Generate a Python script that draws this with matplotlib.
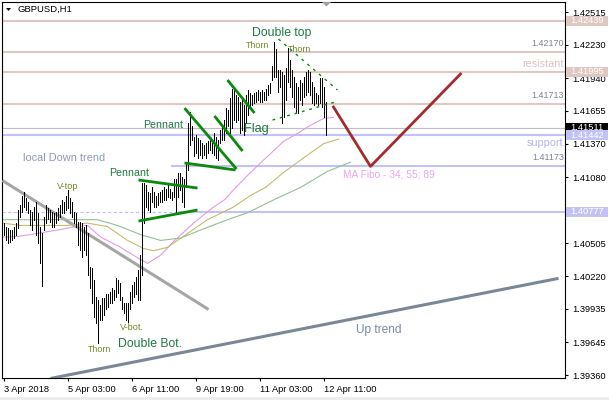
import matplotlib
matplotlib.use('Agg')
import matplotlib.pyplot as plt
from matplotlib import transforms
from matplotlib.patches import Rectangle, Polygon

plt.rcParams['font.family'] = ['Liberation Sans', 'DejaVu Sans']

# ---------------- data ----------------
bar_high = [1.4068, 1.4065, 1.4064, 1.4062, 1.4062, 1.4065, 1.4068, 1.4079, 1.4084, 1.4092,
            1.4095, 1.4090, 1.4086, 1.4079, 1.4078, 1.4082, 1.4086, 1.4077, 1.4065, 1.4059,
            1.4073, 1.4084, 1.4081, 1.4079, 1.4078, 1.4077, 1.4078, 1.4081, 1.4084, 1.4088,
            1.4086, 1.4092, 1.4097, 1.4090, 1.4086, 1.4078, 1.4077, 1.4069, 1.4069, 1.4068,
            1.4065, 1.4066, 1.4059, 1.4030, 1.4029, 1.4019, 1.4004, 1.4001, 1.3997, 1.4003,
            1.4003, 1.4006, 1.4006, 1.4008, 1.4012, 1.4010, 1.4020, 1.4019, 1.4016, 1.4004,
            1.3999, 1.3999, 1.3999, 1.4008, 1.4014, 1.4017, 1.4021, 1.4027, 1.4040, 1.4103,
            1.4103, 1.4101, 1.4095, 1.4094, 1.4099, 1.4095, 1.4092, 1.4094, 1.4095, 1.4097,
            1.4099, 1.4098, 1.4101, 1.4098, 1.4095, 1.4106, 1.4106, 1.4112, 1.4112, 1.4108,
            1.4106, 1.4120, 1.4155, 1.4165, 1.4152, 1.4143, 1.4145, 1.4142, 1.4140, 1.4138,
            1.4136, 1.4138, 1.4139, 1.4140, 1.4140, 1.4146, 1.4143, 1.4140, 1.4149, 1.4152,
            1.4158, 1.4168, 1.4166, 1.4177, 1.4185, 1.4184, 1.4179, 1.4178, 1.4173, 1.4177,
            1.4171, 1.4179, 1.4184, 1.4181, 1.4179, 1.4181, 1.4182, 1.4184, 1.4182, 1.4184,
            1.4182, 1.4185, 1.4188, 1.4190, 1.4205, 1.4225, 1.4219, 1.4201, 1.4201, 1.4199,
            1.4197, 1.4203, 1.4220, 1.4210, 1.4201, 1.4195, 1.4190, 1.4186, 1.4192, 1.4190,
            1.4195, 1.4199, 1.4201, 1.4199, 1.4191, 1.4186, 1.4181, 1.4179, 1.4194, 1.4194,
            1.4186, 1.4173]
bar_low = [1.4058, 1.4053, 1.4051, 1.4052, 1.4053, 1.4055, 1.4058, 1.4064, 1.4073, 1.4078,
           1.4082, 1.4079, 1.4077, 1.4066, 1.4062, 1.4071, 1.4058, 1.4051, 1.4033, 1.4013,
           1.4062, 1.4068, 1.4072, 1.4069, 1.4065, 1.4065, 1.4068, 1.4071, 1.4073, 1.4077,
           1.4077, 1.4079, 1.4081, 1.4077, 1.4073, 1.4068, 1.4065, 1.4049, 1.4045, 1.4039,
           1.4045, 1.4040, 1.4023, 1.4012, 1.3999, 1.3986, 1.3981, 1.3964, 1.3984, 1.3984,
           1.3988, 1.3993, 1.3995, 1.3999, 1.3999, 1.4001, 1.4004, 1.4007, 1.4001, 1.3993,
           1.3990, 1.3984, 1.3982, 1.3993, 1.3999, 1.4004, 1.4006, 1.4001, 1.4001, 1.4023,
           1.4068, 1.4082, 1.4079, 1.4078, 1.4086, 1.4082, 1.4082, 1.4084, 1.4086, 1.4086,
           1.4088, 1.4088, 1.4091, 1.4090, 1.4088, 1.4091, 1.4078, 1.4091, 1.4097, 1.4086,
           1.4082, 1.4099, 1.4114, 1.4136, 1.4140, 1.4126, 1.4129, 1.4125, 1.4127, 1.4125,
           1.4127, 1.4125, 1.4129, 1.4132, 1.4129, 1.4127, 1.4125, 1.4123, 1.4138, 1.4140,
           1.4140, 1.4146, 1.4152, 1.4146, 1.4151, 1.4158, 1.4156, 1.4158, 1.4146, 1.4149,
           1.4145, 1.4155, 1.4162, 1.4168, 1.4171, 1.4172, 1.4173, 1.4175, 1.4173, 1.4173,
           1.4175, 1.4175, 1.4179, 1.4181, 1.4192, 1.4195, 1.4195, 1.4182, 1.4186, 1.4155,
           1.4160, 1.4175, 1.4191, 1.4186, 1.4178, 1.4169, 1.4165, 1.4164, 1.4175, 1.4171,
           1.4178, 1.4179, 1.4182, 1.4179, 1.4172, 1.4171, 1.4172, 1.4171, 1.4172, 1.4169,
           1.4160, 1.4145]

tick_bars = [0, 32, 64, 96, 128, 160]
tick_labels = ['3 Apr 2018', '5 Apr 03:00', '6 Apr 11:00', '9 Apr 19:00',
               '11 Apr 03:00', '12 Apr 11:00']
price_ticks = [1.42515, 1.42230, 1.41940, 1.41655, 1.41370, 1.41080,
               1.40505, 1.40220, 1.39935, 1.39645, 1.39360]

# moving averages (34 pink, 55 khaki, 89 green) read as knots (bar, price)
ma34_bar = [-0.5, 5, 13.5, 20, 27, 36, 42, 48.5, 58.5, 67, 72, 78.5, 85, 95, 105, 111,
            115, 123.5, 132, 140, 147, 153.5, 160, 165]
ma34_val = [1.4056, 1.4056, 1.4058, 1.4060, 1.4062, 1.4065, 1.4066, 1.4056, 1.4047, 1.4038,
            1.4033, 1.4040, 1.4052, 1.4068, 1.4082, 1.4089, 1.4097, 1.4112, 1.4126, 1.4139,
            1.4146, 1.4153, 1.4159, 1.4160]
ma55_bar = [-0.5, 8.5, 20, 32, 42, 52, 62, 70, 75, 82, 92, 102, 115, 123.5, 131, 140,
            153.5, 160, 167.5]
ma55_val = [1.4068, 1.4066, 1.4066, 1.4066, 1.4068, 1.4065, 1.4053, 1.4046, 1.4044, 1.4047,
            1.4059, 1.4071, 1.4082, 1.4092, 1.4099, 1.4112, 1.4129, 1.4137, 1.4141]
ma89_bar = [-0.5, 15, 32, 47, 57, 68.5, 78.5, 88.5, 98.5, 112, 122, 136, 148.5, 162, 173.5]
ma89_val = [1.4071, 1.4071, 1.4071, 1.4071, 1.4066, 1.4058, 1.4053, 1.4055, 1.4062, 1.4071,
            1.4077, 1.4089, 1.4099, 1.4113, 1.4121]

bid_price = 1.41511
resist_levels = [1.42439, 1.42170, 1.41995, 1.41713]
support_level = 1.41442
level_1173 = 1.41173
level_1173_start = 83.5
level_0777 = 1.40777
level_0777_solid_from = 87

# trend / pattern lines as (bar, price) endpoints
down_trend = ([-0.5, 102.5], [1.4105, 1.3993])
up_trend = ([23.5, 277.5], [1.3933, 1.4020])
green_lines = [
    ([67.5, 97], [1.41055, 1.40985]),     # pennant 1 upper
    ([67.5, 97], [1.40698, 1.40794]),     # pennant 1 lower
    ([90.5, 116.5], [1.4168, 1.4115]),    # pennant 2 upper
    ([90.5, 116], [1.41203, 1.41142]),    # pennant 2 lower
    ([105.5, 119.5], [1.41611, 1.41307]), # flag lower
    ([112, 125.5], [1.41924, 1.41637]),   # flag upper
]
dotted_lines = [
    ([137.5, 167], [1.4228, 1.41837]),
    ([134.5, 166], [1.41576, 1.41733]),
]
forecast_bar = [165, 183.5, 228.5]
forecast_val = [1.41689, 1.41173, 1.41976]

# ---------------- figure ----------------
W, H = 609, 400
fig = plt.figure(figsize=(W / 100, H / 100), dpi=100)
fig.patch.set_facecolor('white')
L, R, T, B = 2, 565, 2, 378
ax = fig.add_axes([L / W, 1 - B / H, (R - L) / W, (B - T) / H])
ax.set_xlim(-0.75, 280.75)
ax.set_ylim(1.39334, 1.42602)
ax.set_facecolor('white')
px = (1.42602 - 1.39334) / (B - T)   # price per pixel (layout helper)

ROSE = '#DFC8C2'
LAV = '#C2C2F6'

for lv in resist_levels:
    ax.axhline(lv, color=ROSE, lw=1.5, zorder=1)
ax.axhline(bid_price, color='#C0C0C0', lw=0.8, zorder=1)
ax.axhline(support_level, color=LAV, lw=1.5, zorder=1)
ax.hlines(level_1173, level_1173_start, 281, color=LAV, lw=1.5, zorder=1)
ax.hlines(level_0777, -0.75, level_0777_solid_from, color=LAV, lw=0.8,
          linestyles=(0, (3, 2)), zorder=1)
ax.hlines(level_0777, level_0777_solid_from, 281, color=LAV, lw=1.5, zorder=1)

# moving averages
ax.plot(ma34_bar, ma34_val, color='#E69AE6', lw=0.8, zorder=2)
ax.plot(ma55_bar, ma55_val, color='#C4BC6A', lw=0.8, zorder=2)
ax.plot(ma89_bar, ma89_val, color='#93BF93', lw=0.8, zorder=2)

# trend lines
ax.plot(*down_trend, color='#A6A6A6', lw=2.2, zorder=3, solid_capstyle='butt')
ax.plot(*up_trend, color='#7B8796', lw=2.2, zorder=3, solid_capstyle='butt')

# bars
n = len(bar_high)
ax.vlines(range(n), bar_low, bar_high, colors='black', lw=0.6, antialiased=False,
          snap=True, zorder=4)

for xs, ys in green_lines:
    ax.plot(xs, ys, color='#0A8A0A', lw=2.0, zorder=5, solid_capstyle='butt')
for xs, ys in dotted_lines:
    ax.plot(xs, ys, color='#0A8A0A', lw=1.0, ls=(0, (2, 3.5)), zorder=5)
ax.plot(forecast_bar, forecast_val, color='#A52A2A', lw=2.0, zorder=5)

# axes styling
for s in ax.spines.values():
    s.set_color('black')
    s.set_linewidth(0.8)
ax.yaxis.tick_right()
ax.set_yticks(price_ticks)
ax.set_yticklabels([f'{v:.5f}' for v in price_ticks])
ax.set_xticks(tick_bars)
ax.set_xticklabels(tick_labels)
for lbl in ax.get_xticklabels():
    lbl.set_horizontalalignment('left')
ax.tick_params(axis='both', direction='out', length=2.5, width=0.8, color='black',
               labelsize=6.7, labelcolor='black')
ax.tick_params(axis='y', pad=2.5)
ax.tick_params(axis='x', pad=2.5)

# level text labels on the chart
blend = transforms.blended_transform_factory(ax.transAxes, ax.transData)
lvl_txt_color = '#7B8396'
for lv in [1.42170, 1.41713, 1.41173]:
    ax.annotate(f'{lv:.5f}', xy=(1.0, lv), xycoords=blend, xytext=(-1, 4),
                textcoords='offset pixels', ha='right', va='bottom',
                fontsize=6.5, color=lvl_txt_color, zorder=6)
ax.annotate('resistant', xy=(1.0, 1.41995), xycoords=blend, xytext=(-1, 3),
            textcoords='offset pixels', ha='right', va='bottom', fontsize=7.8,
            color='#E2C0C0', zorder=6)
ax.annotate('support', xy=(1.0, support_level), xycoords=blend, xytext=(-2, -3),
            textcoords='offset pixels', ha='right', va='top', fontsize=7.8,
            color='#B4B4EE', zorder=6)

# right-side price boxes
fblend = transforms.blended_transform_factory(fig.transFigure, ax.transData)
boxes = [(1.42439, ROSE, 'white'), (1.41995, ROSE, 'white'), (bid_price, 'black', 'white'),
         (support_level, LAV, 'white'), (level_0777, LAV, 'white')]
for val, fc, tc in boxes:
    rect = Rectangle((566 / W, val - 5 * px), 42 / W, 10 * px, transform=fblend,
                     facecolor=fc, edgecolor='none', zorder=10, clip_on=False)
    fig.add_artist(rect)
    fig.text(587 / W, val, f'{val:.5f}', transform=fblend, ha='center', va='center',
             fontsize=6.7, color=tc, zorder=11)


def ptext(x, y, s, size, color, ha='center', **kw):
    fig.text(x / W, 1 - y / H, s, ha=ha, va='center', fontsize=size, color=color, zorder=8, **kw)


# title
fig.add_artist(Polygon([[6 / W, 1 - 8 / H], [11 / W, 1 - 8 / H], [8.5 / W, 1 - 11 / H]],
                       closed=True, transform=fig.transFigure, facecolor='black',
                       edgecolor='none', zorder=8))
ptext(17, 9.5, 'GBPUSD,H1', 6.8, 'black', ha='left')
# shift marker
fig.add_artist(Polygon([[322 / W, 1 - 2 / H], [331 / W, 1 - 2 / H], [326.5 / W, 1 - 6.5 / H]],
                       closed=True, transform=fig.transFigure, facecolor='#A0A0A0',
                       edgecolor='none', zorder=8))

GREEN_T = '#1F7A45'
OLIVE_T = '#6F8A20'
ptext(282, 33, 'Double top', 8.8, GREEN_T)
ptext(258, 45, 'Thorn', 6.4, OLIVE_T)
ptext(300, 49, 'Thorn', 6.4, OLIVE_T)
ptext(163, 125.5, 'Pennant', 7.7, GREEN_T)
ptext(129, 172.5, 'Pennant', 7.7, GREEN_T)
ptext(256, 129, 'Flag', 9.2, GREEN_T)
ptext(64, 158, 'local Down trend', 7.9, '#8C99BE')
ptext(68, 186.5, 'V-top', 6.6, OLIVE_T)
ptext(131.5, 328, 'V-bot.', 6.6, OLIVE_T)
ptext(100, 350, 'Thorn', 6.4, OLIVE_T)
ptext(150, 344, 'Double Bot.', 8.8, GREEN_T)
ptext(379, 330, 'Up trend', 8.6, '#7C8AA6')
ptext(388.5, 174, 'MA Fibo - 34; 55; 89', 7.3, '#E8A6E8')

# bottom strip
fig.add_artist(Rectangle((0, 0), 1, 3 / H, transform=fig.transFigure,
                         facecolor='#EDEDED', edgecolor='none', zorder=0))

fig.savefig('out.png', dpi=100, facecolor='white')
